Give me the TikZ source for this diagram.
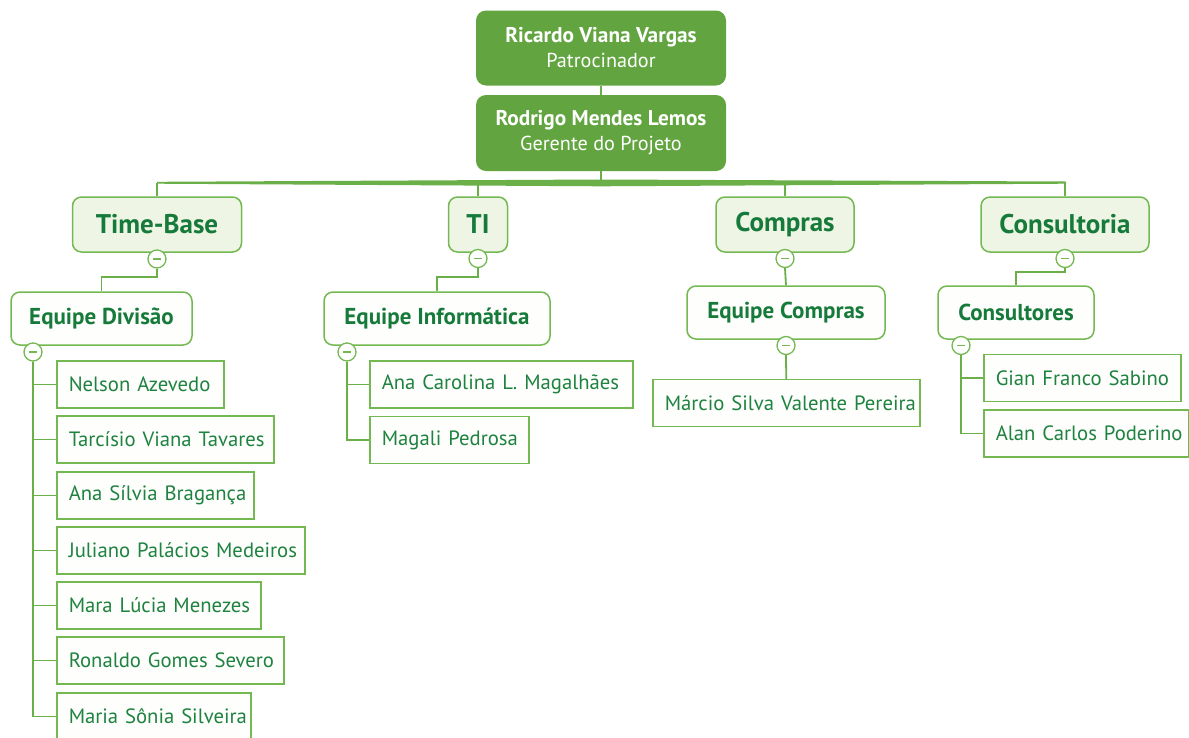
\documentclass[tikz,border=0pt]{standalone}
\usepackage{fontspec}
\setmainfont{PT Sans}
\usetikzlibrary{backgrounds}

\definecolor{topgreen}{HTML}{62A540}
\definecolor{linegreen}{HTML}{6AAF47}
\definecolor{edgegreen}{HTML}{74B852}
\definecolor{catfill}{HTML}{EEF5E5}
\definecolor{paper}{HTML}{FEFEFC}
\definecolor{deepgreen}{HTML}{167A3A}
\definecolor{leafgreen}{HTML}{1E8240}

% bold first line of the two top boxes
\newcommand{\personname}[1]{{\bfseries\fontsize{21.3}{25}\selectfont #1}}

\tikzset{
  topbox/.style={rounded corners=10pt, fill=topgreen, text=white,
    minimum width=250pt, minimum height=75pt, align=center, inner sep=0pt,
    font=\fontsize{20.2}{25}\selectfont},
  catbox/.style={rounded corners=9pt, draw=edgegreen, line width=1.5pt,
    fill=catfill, text=deepgreen, minimum height=55pt, inner sep=0pt,
    font=\bfseries\fontsize{27}{30}\selectfont},
  teambox/.style={rounded corners=9pt, draw=edgegreen, line width=1.5pt,
    fill=paper, text=deepgreen, minimum height=53pt, inner sep=0pt,
    font=\bfseries\fontsize{23}{26}\selectfont},
  leafbox/.style={rectangle, draw=edgegreen, line width=1.5pt, fill=paper,
    text=leafgreen, minimum height=47pt, inner xsep=12pt, inner ysep=0pt,
    align=left, text width=#1, anchor=west,
    execute at begin node=\hbox\bgroup, execute at end node=\egroup,
    font=\fontsize{20.7}{24}\selectfont},
  toggle/.style={circle, draw=edgegreen, line width=1.3pt, fill=white,
    minimum size=18pt, inner sep=0pt,
    path picture={\draw[edgegreen, line width=1.4pt]
      ([xshift=-4pt]path picture bounding box.center) --
      ([xshift=4pt]path picture bounding box.center);}},
  link/.style={draw=linegreen, line width=1.8pt},
}

\begin{document}
\begin{tikzpicture}[x=1pt, y=-1pt]
\useasboundingbox (0,0) rectangle (1189,737);

% sponsor and project manager
\node[topbox] (sponsor) at (601,48) {\personname{Ricardo Viana Vargas}\\Patrocinador};
\node[topbox, minimum height=76pt] (manager) at (601,133) {\personname{Rodrigo Mendes Lemos}\\Gerente do Projeto};

% areas
\node[catbox, minimum width=169pt] (timebase) at (157,224.5) {Time-Base};
\node[catbox, minimum width=59pt]  (ti)       at (478,224.5) {TI};
\node[catbox, minimum width=138pt] (compras)  at (785,224.5) {Compras};
\node[catbox, minimum width=168pt] (consult)  at (1065,224.5) {Consultoria};

% teams
\node[teambox, minimum width=181pt] (eqd)  at (101.5,318.5) {Equipe Divisão};
\node[teambox, minimum width=226pt] (eqi)  at (437,318.5)   {Equipe Informática};
\node[teambox, minimum width=198pt] (eqc)  at (786,312.5)   {Equipe Compras};
\node[teambox, minimum width=156pt] (cons) at (1016,312.5)  {Consultores};

% members
\node[leafbox=143pt] (m1) at (56,384.5) {Nelson Azevedo};
\node[leafbox=193pt] (m2) at (56,439.5) {Tarcísio Viana Tavares};
\node[leafbox=173pt] (m3) at (56,495.5) {Ana Sílvia Bragança};
\node[leafbox=224pt] (m4) at (56,550.5) {Juliano Palácios Medeiros};
\node[leafbox=180pt] (m5) at (56,605.5) {Mara Lúcia Menezes};
\node[leafbox=203pt] (m6) at (56,660.5) {Ronaldo Gomes Severo};
\node[leafbox=170pt] (m7) at (56,716.5) {Maria Sônia Silveira};

\node[leafbox=239pt] (i1) at (369,384.5) {Ana Carolina L. Magalhães};
\node[leafbox=135pt] (i2) at (369,440)   {Magali Pedrosa};

\node[leafbox=243pt] (c1) at (652,403) {Márcio Silva Valente Pereira};

\node[leafbox=173pt] (s1) at (983,378)   {Gian Franco Sabino};
\node[leafbox=181pt] (s2) at (983,433.5) {Alan Carlos Poderino};

% collapse toggles
\node[toggle] (tbT) at (157,259) {};
\node[toggle] (tiT) at (478,258.5) {};
\node[toggle] (cpT) at (785,258.5) {};
\node[toggle] (csT) at (1065,258.5) {};
\node[toggle] (eqdT) at (33,352) {};
\node[toggle] (eqiT) at (347,352) {};
\node[toggle] (eqcT) at (786,345.5) {};
\node[toggle] (consT) at (961,345.5) {};

\begin{scope}[on background layer]
  \draw[link] (sponsor.south) -- (manager.north);

  % tapered distribution bar
  \coordinate (bar) at (601,183);
  \draw[link] (manager.south) -- (bar);
  \fill[linegreen] (157,181.8) -- (601,179.5) -- (1066,181.5) -- (1066,183.7)
    -- (601,186.3) -- (157,183.7) -- cycle;
  \foreach \n in {timebase,ti,compras,consult}
    \draw[link] (\n.north) -- (\n.north |- bar);

  % area to team
  \draw[link] (tbT.south) -- ++(0,8.5) -| (eqd.north);
  \draw[link] (tiT.south) -- ++(0,9) -| (eqi.north);
  \draw[link] (cpT.south) -- (eqc.north);
  \draw[link] (csT.south) -- ++(0,3.5) -| (cons.north);

  % team to members
  \foreach \m in {m1,m2,m3,m4,m5,m6,m7}
    \draw[link] (eqdT.south) |- (\m.west);
  \foreach \m in {i1,i2}
    \draw[link] (eqiT.south) |- (\m.west);
  \draw[link] (eqcT.south) -- (c1.north);
  \foreach \m in {s1,s2}
    \draw[link] (consT.south) |- (\m.west);
\end{scope}
\end{tikzpicture}
\end{document}
